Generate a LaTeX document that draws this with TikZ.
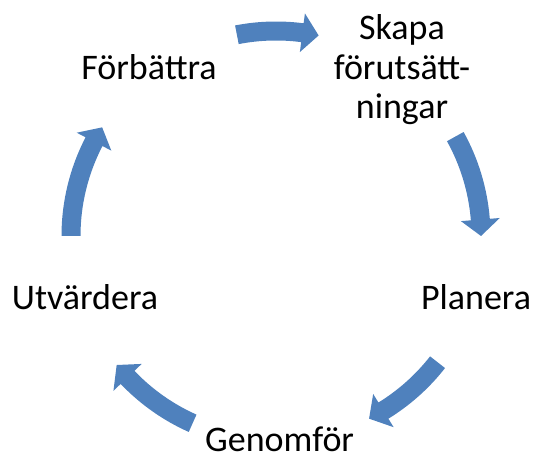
\documentclass[tikz,border=0pt]{standalone}
\usepackage{fontspec}
\setmainfont{Carlito}
\definecolor{smartblue}{RGB}{79,129,189}
\tikzset{
  cyclelabel/.style={inner sep=0pt, font=\fontsize{36}{39.5}\selectfont, text=black, align=center},
  arrowfill/.style={fill=smartblue}
}
\newcommand{\cyclearrow}[2]{%
  \pgfmathsetmacro\headback{#2+4.6}%
  \fill[arrowfill] (#1:214.5) arc[start angle=#1, end angle=\headback, radius=214.5pt]
    -- (\headback:224.5) -- (#2:205) -- (\headback:185.5) -- (\headback:195.5)
    arc[start angle=\headback, end angle=#1, radius=195.5pt] -- cycle;}
\begin{document}
\begin{tikzpicture}[x=1pt,y=1pt]
\useasboundingbox (0,0) rectangle (535,455);
\begin{scope}[shift={(276,219)}]
  \cyclearrow{101}{78}
  \cyclearrow{29}{0}
  \cyclearrow{-38}{-63}
  \cyclearrow{-114}{-141}
  \cyclearrow{180}{148}
\end{scope}
\node[cyclelabel, anchor=base] (skapa) at (402,336) {Skapa\\förutsätt-\\ningar};
\node[cyclelabel, anchor=base] (planera) at (476,145) {Planera};
\node[cyclelabel, anchor=base west] (genomfor) at (205,3.5) {Genomför};
\node[cyclelabel, anchor=base] (utvardera) at (85,145) {Utvärdera};
\node[cyclelabel, anchor=base] (forbattra) at (149,375) {Förbättra};
\end{tikzpicture}
\end{document}
